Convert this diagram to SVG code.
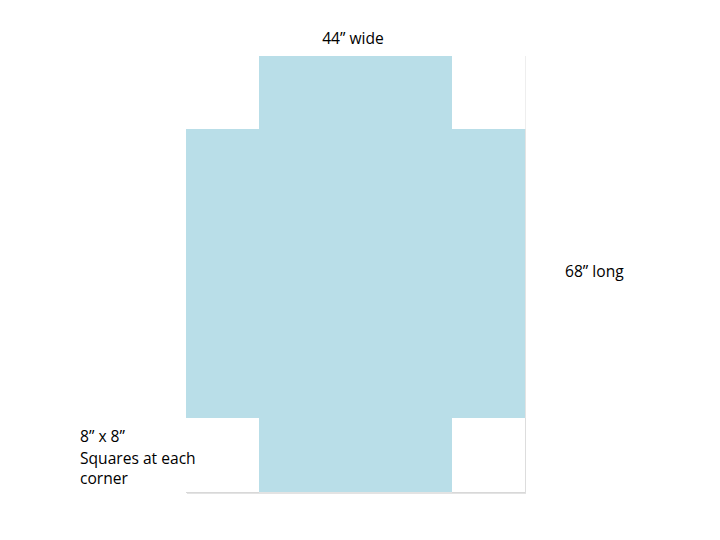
<svg xmlns="http://www.w3.org/2000/svg" width="720" height="540" viewBox="0 0 720 540">
<defs>
<style>
.lbl{font-family:"Open Sans","Liberation Sans",sans-serif;font-size:15.6px;fill:#000}
.sq{fill:#ffffff}
</style>
</defs>
<rect width="720" height="540" fill="#ffffff"/>
<g id="sheet">
<rect x="187" y="57" width="339" height="437" fill="#d0d0d0" opacity="0.6"/>
<rect x="186" y="56" width="339" height="436" fill="#b9dee8"/>
</g>
<g id="corners">
<rect class="sq" x="186" y="56" width="73" height="73"/>
<rect class="sq" x="452" y="56" width="73" height="73"/>
<rect class="sq" x="186" y="418" width="73" height="74"/>
<rect class="sq" x="452" y="418" width="73" height="74"/>
<line x1="186" y1="492.5" x2="259" y2="492.5" stroke="#d8d8d8" stroke-width="1"/>
<line x1="452" y1="492.5" x2="525" y2="492.5" stroke="#d8d8d8" stroke-width="1"/>
<line x1="525.5" y1="418" x2="525.5" y2="493" stroke="#dddddd" stroke-width="1"/>
<line x1="525.5" y1="56" x2="525.5" y2="129" stroke="#eeeeee" stroke-width="1"/>
</g>
<g id="labels">
<text class="lbl" x="353" y="44" text-anchor="middle">44” wide</text>
<text class="lbl" x="565" y="277">68” long</text>
<text class="lbl" x="80" y="442">8” x 8”</text>
<text class="lbl" x="80" y="464">Squares at each</text>
<text class="lbl" x="80" y="484">corner</text>
</g>
</svg>
